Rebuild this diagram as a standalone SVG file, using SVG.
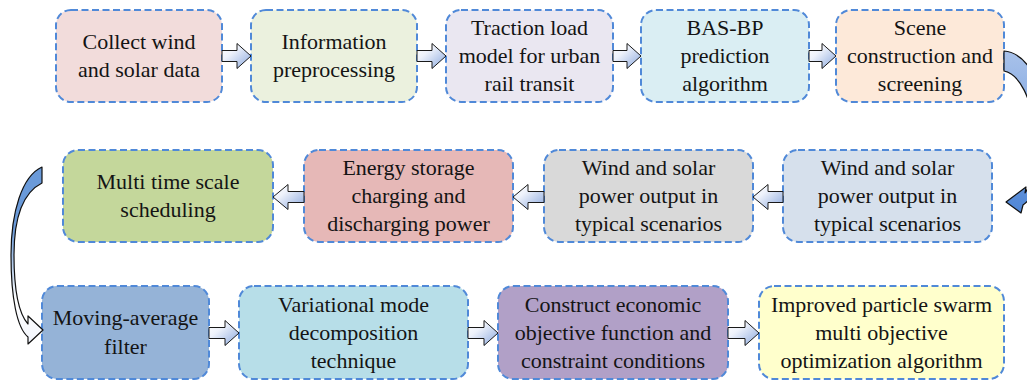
<svg xmlns="http://www.w3.org/2000/svg" width="1027" height="383" viewBox="0 0 1027 383">
  <defs>
    <linearGradient id="blockFill" x1="0" y1="0" x2="1" y2="1">
      <stop offset="0" stop-color="#ffffff"/>
      <stop offset="0.35" stop-color="#eef2fb"/>
      <stop offset="1" stop-color="#8aa8de"/>
    </linearGradient>
    <linearGradient id="curveRight" x1="0" y1="0" x2="0" y2="1">
      <stop offset="0" stop-color="#a9c2ea"/>
      <stop offset="1" stop-color="#4f86d6"/>
    </linearGradient>
    <linearGradient id="curveLeft" x1="0" y1="0" x2="0" y2="1">
      <stop offset="0" stop-color="#6a9ad9"/>
      <stop offset="0.35" stop-color="#6a9ad9"/>
      <stop offset="0.75" stop-color="#ffffff"/>
      <stop offset="1" stop-color="#f2f5fc"/>
    </linearGradient>
    <style>
      .box { stroke: #5089d8; stroke-width: 2; stroke-dasharray: 7 3.5; }
      .lbl { font-family: "Liberation Serif", "Times New Roman", serif; font-size: 22px; fill: #141414; text-anchor: middle; }
      .blk { fill: url(#blockFill); stroke: #1a1a1a; stroke-width: 1; stroke-linejoin: miter; }
      .crv { stroke: #111111; stroke-width: 1.2; stroke-linejoin: round; }
    </style>
  </defs>

  <!-- top row -->
  <g id="collect-data">
    <rect class="box" x="56" y="10" width="166" height="92" rx="15" fill="#f2dcdb"/>
    <text class="lbl" x="139" y="49">Collect wind</text>
    <text class="lbl" x="139" y="77">and solar data</text>
  </g>
  <g id="preprocessing">
    <rect class="box" x="251" y="10" width="166" height="92" rx="15" fill="#ebf1de"/>
    <text class="lbl" x="334" y="49">Information</text>
    <text class="lbl" x="334" y="77">preprocessing</text>
  </g>
  <g id="traction-load">
    <rect class="box" x="446" y="10" width="167" height="92" rx="15" fill="#eae7f1"/>
    <text class="lbl" x="529.5" y="35">Traction load</text>
    <text class="lbl" x="529.5" y="63">model for urban</text>
    <text class="lbl" x="529.5" y="91">rail transit</text>
  </g>
  <g id="bas-bp">
    <rect class="box" x="641" y="10" width="168" height="92" rx="15" fill="#daeef3"/>
    <text class="lbl" x="725" y="35">BAS-BP</text>
    <text class="lbl" x="725" y="63">prediction</text>
    <text class="lbl" x="725" y="91">algorithm</text>
  </g>
  <g id="scene">
    <rect class="box" x="836" y="10" width="168" height="92" rx="15" fill="#fde9d9"/>
    <text class="lbl" x="920" y="35">Scene</text>
    <text class="lbl" x="920" y="63">construction and</text>
    <text class="lbl" x="920" y="91">screening</text>
  </g>

  <!-- middle row -->
  <g id="multi-scale">
    <rect class="box" x="63" y="150" width="210" height="92" rx="15" fill="#c4d79b"/>
    <text class="lbl" x="168" y="189">Multi time scale</text>
    <text class="lbl" x="168" y="217">scheduling</text>
  </g>
  <g id="energy-storage">
    <rect class="box" x="304" y="150" width="209" height="92" rx="15" fill="#e6b8b7"/>
    <text class="lbl" x="408.5" y="175">Energy storage</text>
    <text class="lbl" x="408.5" y="203">charging and</text>
    <text class="lbl" x="408.5" y="231">discharging power</text>
  </g>
  <g id="output-b">
    <rect class="box" x="544" y="150" width="209" height="92" rx="15" fill="#d9d9d9"/>
    <text class="lbl" x="648.5" y="175">Wind and solar</text>
    <text class="lbl" x="648.5" y="203">power output in</text>
    <text class="lbl" x="648.5" y="231">typical scenarios</text>
  </g>
  <g id="output-a">
    <rect class="box" x="783" y="150" width="209" height="92" rx="15" fill="#d6e0ec"/>
    <text class="lbl" x="887.5" y="175">Wind and solar</text>
    <text class="lbl" x="887.5" y="203">power output in</text>
    <text class="lbl" x="887.5" y="231">typical scenarios</text>
  </g>

  <!-- bottom row -->
  <g id="moving-average">
    <rect class="box" x="42" y="286" width="167" height="93" rx="15" fill="#95b3d7"/>
    <text class="lbl" x="125.5" y="325">Moving-average</text>
    <text class="lbl" x="125.5" y="354">filter</text>
  </g>
  <g id="vmd">
    <rect class="box" x="239" y="286" width="229" height="93" rx="15" fill="#b7dee8"/>
    <text class="lbl" x="353.5" y="311.5">Variational mode</text>
    <text class="lbl" x="353.5" y="339.5">decomposition</text>
    <text class="lbl" x="353.5" y="367.5">technique</text>
  </g>
  <g id="objective">
    <rect class="box" x="498" y="286" width="230" height="93" rx="15" fill="#b1a0c7"/>
    <text class="lbl" x="613" y="311.5">Construct economic</text>
    <text class="lbl" x="613" y="339.5">objective function and</text>
    <text class="lbl" x="613" y="367.5">constraint conditions</text>
  </g>
  <g id="pso">
    <rect class="box" x="759" y="286" width="245" height="93" rx="15" fill="#ffffcc"/>
    <text class="lbl" x="881.5" y="311.5">Improved particle swarm</text>
    <text class="lbl" x="881.5" y="339.5">multi objective</text>
    <text class="lbl" x="881.5" y="367.5">optimization algorithm</text>
  </g>

  <!-- connectors -->
  <g id="connectors">
    <!-- top row, pointing right -->
    <polygon class="blk" points="222,50.5 237,50.5 237,43.5 251,56 237,68.5 237,61.5 222,61.5"/>
    <polygon class="blk" points="417,50.5 432,50.5 432,43.5 446,56 432,68.5 432,61.5 417,61.5"/>
    <polygon class="blk" points="613,50.5 627,50.5 627,43.5 641,56 627,68.5 627,61.5 613,61.5"/>
    <polygon class="blk" points="809,50.5 822,50.5 822,43.5 836,56 822,68.5 822,61.5 809,61.5"/>

    <!-- middle row, pointing left -->
    <polygon class="blk" points="783,191.5 768,191.5 768,184.5 753,197 768,209.5 768,202.5 783,202.5"/>
    <polygon class="blk" points="544,191.5 528,191.5 528,184.5 513,197 528,209.5 528,202.5 544,202.5"/>
    <polygon class="blk" points="304,191.5 288,191.5 288,184.5 273,197 288,209.5 288,202.5 304,202.5"/>

    <!-- bottom row, pointing right -->
    <polygon class="blk" points="209,327.5 225,327.5 225,320.5 239,333 225,345.5 225,338.5 209,338.5"/>
    <polygon class="blk" points="468,327.5 484,327.5 484,320.5 498,333 484,345.5 484,338.5 468,338.5"/>
    <polygon class="blk" points="728,327.5 745,327.5 745,320.5 759,333 745,345.5 745,338.5 728,338.5"/>

    <!-- bend from the top row down to the middle row -->
    <path class="crv" fill="url(#curveRight)" d="M1004,51 C1030,53 1048,95 1048,130 C1048,165 1040,192 1023,205 L1021,213 L1006,202 L1026,187 L1025,193 C1034,180 1036,160 1034,130 C1032,100 1020,74 1004,71 Z"/>

    <!-- bend from the middle row down to the bottom row -->
    <path class="crv" fill="url(#curveLeft)" d="M42,167 C22,176 11,212 11,255 C11,298 17,328 28,337 L28,344 L43,330 L28,316 L28,324 C19,314 14,292 14,255 C14,216 24,192 42,183 Z"/>
  </g>
</svg>
